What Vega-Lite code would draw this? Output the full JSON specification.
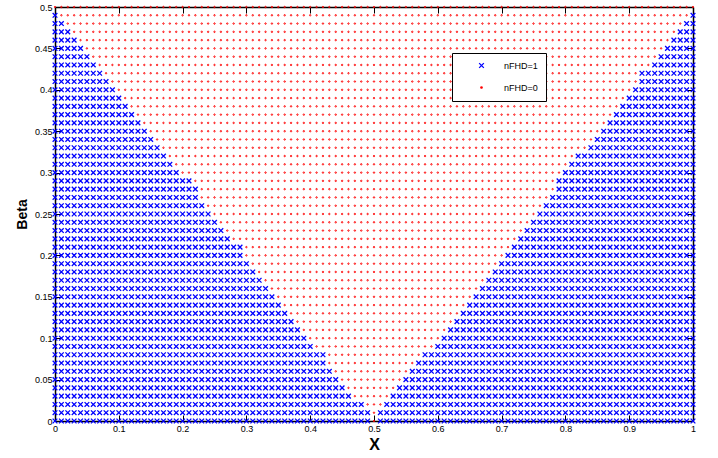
{
"$schema": "https://vega.github.io/schema/vega-lite/v6.json",
"width": 638,
"height": 414,
"autosize": {"type": "none"},
"padding": {"left": 55, "top": 7, "right": 25, "bottom": 37},
"background": "white",
"config": {
"view": {"stroke": null},
"font": "Liberation Sans",
"axis": {"domainColor": "black", "domainWidth": 1.5, "tickColor": "black", "tickWidth": 1, "tickSize": -6, "labelPadding": 9, "labelFont": "Liberation Sans", "labelFontSize": 9, "labelColor": "black", "labelFlush": false, "labelOverlap": false, "titleFont": "Liberation Sans", "titleFontWeight": "bold", "titleColor": "black", "grid": false, "tickCount": 10}
},
"layer": [
{
"data": {"values": "x,beta\n0,0\n.01,0\n.02,0\n.03,0\n.04,0\n.05,0\n.06,0\n.07,0\n.08,0\n.09,0\n.1,0\n.11,0\n.12,0\n.13,0\n.14,0\n.15,0\n.16,0\n.17,0\n.18,0\n.19,0\n.2,0\n.21,0\n.22,0\n.23,0\n.24,0\n.25,0\n.26,0\n.27,0\n.28,0\n.29,0\n.3,0\n.31,0\n.32,0\n.33,0\n.34,0\n.35,0\n.36,0\n.37,0\n.38,0\n.39,0\n.4,0\n.41,0\n.42,0\n.43,0\n.44,0\n.45,0\n.46,0\n.47,0\n.48,0\n.49,0\n.51,0\n.52,0\n.53,0\n.54,0\n.55,0\n.56,0\n.57,0\n.58,0\n.59,0\n.6,0\n.61,0\n.62,0\n.63,0\n.64,0\n.65,0\n.66,0\n.67,0\n.68,0\n.69,0\n.7,0\n.71,0\n.72,0\n.73,0\n.74,0\n.75,0\n.76,0\n.77,0\n.78,0\n.79,0\n.8,0\n.81,0\n.82,0\n.83,0\n.84,0\n.85,0\n.86,0\n.87,0\n.88,0\n.89,0\n.9,0\n.91,0\n.92,0\n.93,0\n.94,0\n.95,0\n.96,0\n.97,0\n.98,0\n.99,0\n1,0\n0,.01\n.01,.01\n.02,.01\n.03,.01\n.04,.01\n.05,.01\n.06,.01\n.07,.01\n.08,.01\n.09,.01\n.1,.01\n.11,.01\n.12,.01\n.13,.01\n.14,.01\n.15,.01\n.16,.01\n.17,.01\n.18,.01\n.19,.01\n.2,.01\n.21,.01\n.22,.01\n.23,.01\n.24,.01\n.25,.01\n.26,.01\n.27,.01\n.28,.01\n.29,.01\n.3,.01\n.31,.01\n.32,.01\n.33,.01\n.34,.01\n.35,.01\n.36,.01\n.37,.01\n.38,.01\n.39,.01\n.4,.01\n.41,.01\n.42,.01\n.43,.01\n.44,.01\n.45,.01\n.46,.01\n.47,.01\n.48,.01\n.49,.01\n.51,.01\n.52,.01\n.53,.01\n.54,.01\n.55,.01\n.56,.01\n.57,.01\n.58,.01\n.59,.01\n.6,.01\n.61,.01\n.62,.01\n.63,.01\n.64,.01\n.65,.01\n.66,.01\n.67,.01\n.68,.01\n.69,.01\n.7,.01\n.71,.01\n.72,.01\n.73,.01\n.74,.01\n.75,.01\n.76,.01\n.77,.01\n.78,.01\n.79,.01\n.8,.01\n.81,.01\n.82,.01\n.83,.01\n.84,.01\n.85,.01\n.86,.01\n.87,.01\n.88,.01\n.89,.01\n.9,.01\n.91,.01\n.92,.01\n.93,.01\n.94,.01\n.95,.01\n.96,.01\n.97,.01\n.98,.01\n.99,.01\n1,.01\n0,.02\n.01,.02\n.02,.02\n.03,.02\n.04,.02\n.05,.02\n.06,.02\n.07,.02\n.08,.02\n.09,.02\n.1,.02\n.11,.02\n.12,.02\n.13,.02\n.14,.02\n.15,.02\n.16,.02\n.17,.02\n.18,.02\n.19,.02\n.2,.02\n.21,.02\n.22,.02\n.23,.02\n.24,.02\n.25,.02\n.26,.02\n.27,.02\n.28,.02\n.29,.02\n.3,.02\n.31,.02\n.32,.02\n.33,.02\n.34,.02\n.35,.02\n.36,.02\n.37,.02\n.38,.02\n.39,.02\n.4,.02\n.41,.02\n.42,.02\n.43,.02\n.44,.02\n.45,.02\n.46,.02\n.47,.02\n.48,.02\n.52,.02\n.53,.02\n.54,.02\n.55,.02\n.56,.02\n.57,.02\n.58,.02\n.59,.02\n.6,.02\n.61,.02\n.62,.02\n.63,.02\n.64,.02\n.65,.02\n.66,.02\n.67,.02\n.68,.02\n.69,.02\n.7,.02\n.71,.02\n.72,.02\n.73,.02\n.74,.02\n.75,.02\n.76,.02\n.77,.02\n.78,.02\n.79,.02\n.8,.02\n.81,.02\n.82,.02\n.83,.02\n.84,.02\n.85,.02\n.86,.02\n.87,.02\n.88,.02\n.89,.02\n.9,.02\n.91,.02\n.92,.02\n.93,.02\n.94,.02\n.95,.02\n.96,.02\n.97,.02\n.98,.02\n.99,.02\n1,.02\n0,.03\n.01,.03\n.02,.03\n.03,.03\n.04,.03\n.05,.03\n.06,.03\n.07,.03\n.08,.03\n.09,.03\n.1,.03\n.11,.03\n.12,.03\n.13,.03\n.14,.03\n.15,.03\n.16,.03\n.17,.03\n.18,.03\n.19,.03\n.2,.03\n.21,.03\n.22,.03\n.23,.03\n.24,.03\n.25,.03\n.26,.03\n.27,.03\n.28,.03\n.29,.03\n.3,.03\n.31,.03\n.32,.03\n.33,.03\n.34,.03\n.35,.03\n.36,.03\n.37,.03\n.38,.03\n.39,.03\n.4,.03\n.41,.03\n.42,.03\n.43,.03\n.44,.03\n.45,.03\n.46,.03\n.53,.03\n.54,.03\n.55,.03\n.56,.03\n.57,.03\n.58,.03\n.59,.03\n.6,.03\n.61,.03\n.62,.03\n.63,.03\n.64,.03\n.65,.03\n.66,.03\n.67,.03\n.68,.03\n.69,.03\n.7,.03\n.71,.03\n.72,.03\n.73,.03\n.74,.03\n.75,.03\n.76,.03\n.77,.03\n.78,.03\n.79,.03\n.8,.03\n.81,.03\n.82,.03\n.83,.03\n.84,.03\n.85,.03\n.86,.03\n.87,.03\n.88,.03\n.89,.03\n.9,.03\n.91,.03\n.92,.03\n.93,.03\n.94,.03\n.95,.03\n.96,.03\n.97,.03\n.98,.03\n.99,.03\n1,.03\n0,.04\n.01,.04\n.02,.04\n.03,.04\n.04,.04\n.05,.04\n.06,.04\n.07,.04\n.08,.04\n.09,.04\n.1,.04\n.11,.04\n.12,.04\n.13,.04\n.14,.04\n.15,.04\n.16,.04\n.17,.04\n.18,.04\n.19,.04\n.2,.04\n.21,.04\n.22,.04\n.23,.04\n.24,.04\n.25,.04\n.26,.04\n.27,.04\n.28,.04\n.29,.04\n.3,.04\n.31,.04\n.32,.04\n.33,.04\n.34,.04\n.35,.04\n.36,.04\n.37,.04\n.38,.04\n.39,.04\n.4,.04\n.41,.04\n.42,.04\n.43,.04\n.44,.04\n.45,.04\n.54,.04\n.55,.04\n.56,.04\n.57,.04\n.58,.04\n.59,.04\n.6,.04\n.61,.04\n.62,.04\n.63,.04\n.64,.04\n.65,.04\n.66,.04\n.67,.04\n.68,.04\n.69,.04\n.7,.04\n.71,.04\n.72,.04\n.73,.04\n.74,.04\n.75,.04\n.76,.04\n.77,.04\n.78,.04\n.79,.04\n.8,.04\n.81,.04\n.82,.04\n.83,.04\n.84,.04\n.85,.04\n.86,.04\n.87,.04\n.88,.04\n.89,.04\n.9,.04\n.91,.04\n.92,.04\n.93,.04\n.94,.04\n.95,.04\n.96,.04\n.97,.04\n.98,.04\n.99,.04\n1,.04\n0,.05\n.01,.05\n.02,.05\n.03,.05\n.04,.05\n.05,.05\n.06,.05\n.07,.05\n.08,.05\n.09,.05\n.1,.05\n.11,.05\n.12,.05\n.13,.05\n.14,.05\n.15,.05\n.16,.05\n.17,.05\n.18,.05\n.19,.05\n.2,.05\n.21,.05\n.22,.05\n.23,.05\n.24,.05\n.25,.05\n.26,.05\n.27,.05\n.28,.05\n.29,.05\n.3,.05\n.31,.05\n.32,.05\n.33,.05\n.34,.05\n.35,.05\n.36,.05\n.37,.05\n.38,.05\n.39,.05\n.4,.05\n.41,.05\n.42,.05\n.43,.05\n.44,.05\n.55,.05\n.56,.05\n.57,.05\n.58,.05\n.59,.05\n.6,.05\n.61,.05\n.62,.05\n.63,.05\n.64,.05\n.65,.05\n.66,.05\n.67,.05\n.68,.05\n.69,.05\n.7,.05\n.71,.05\n.72,.05\n.73,.05\n.74,.05\n.75,.05\n.76,.05\n.77,.05\n.78,.05\n.79,.05\n.8,.05\n.81,.05\n.82,.05\n.83,.05\n.84,.05\n.85,.05\n.86,.05\n.87,.05\n.88,.05\n.89,.05\n.9,.05\n.91,.05\n.92,.05\n.93,.05\n.94,.05\n.95,.05\n.96,.05\n.97,.05\n.98,.05\n.99,.05\n1,.05\n0,.06\n.01,.06\n.02,.06\n.03,.06\n.04,.06\n.05,.06\n.06,.06\n.07,.06\n.08,.06\n.09,.06\n.1,.06\n.11,.06\n.12,.06\n.13,.06\n.14,.06\n.15,.06\n.16,.06\n.17,.06\n.18,.06\n.19,.06\n.2,.06\n.21,.06\n.22,.06\n.23,.06\n.24,.06\n.25,.06\n.26,.06\n.27,.06\n.28,.06\n.29,.06\n.3,.06\n.31,.06\n.32,.06\n.33,.06\n.34,.06\n.35,.06\n.36,.06\n.37,.06\n.38,.06\n.39,.06\n.4,.06\n.41,.06\n.42,.06\n.43,.06\n.56,.06\n.57,.06\n.58,.06\n.59,.06\n.6,.06\n.61,.06\n.62,.06\n.63,.06\n.64,.06\n.65,.06\n.66,.06\n.67,.06\n.68,.06\n.69,.06\n.7,.06\n.71,.06\n.72,.06\n.73,.06\n.74,.06\n.75,.06\n.76,.06\n.77,.06\n.78,.06\n.79,.06\n.8,.06\n.81,.06\n.82,.06\n.83,.06\n.84,.06\n.85,.06\n.86,.06\n.87,.06\n.88,.06\n.89,.06\n.9,.06\n.91,.06\n.92,.06\n.93,.06\n.94,.06\n.95,.06\n.96,.06\n.97,.06\n.98,.06\n.99,.06\n1,.06\n0,.07\n.01,.07\n.02,.07\n.03,.07\n.04,.07\n.05,.07\n.06,.07\n.07,.07\n.08,.07\n.09,.07\n.1,.07\n.11,.07\n.12,.07\n.13,.07\n.14,.07\n.15,.07\n.16,.07\n.17,.07\n.18,.07\n.19,.07\n.2,.07\n.21,.07\n.22,.07\n.23,.07\n.24,.07\n.25,.07\n.26,.07\n.27,.07\n.28,.07\n.29,.07\n.3,.07\n.31,.07\n.32,.07\n.33,.07\n.34,.07\n.35,.07\n.36,.07\n.37,.07\n.38,.07\n.39,.07\n.4,.07\n.41,.07\n.42,.07\n.57,.07\n.58,.07\n.59,.07\n.6,.07\n.61,.07\n.62,.07\n.63,.07\n.64,.07\n.65,.07\n.66,.07\n.67,.07\n.68,.07\n.69,.07\n.7,.07\n.71,.07\n.72,.07\n.73,.07\n.74,.07\n.75,.07\n.76,.07\n.77,.07\n.78,.07\n.79,.07\n.8,.07\n.81,.07\n.82,.07\n.83,.07\n.84,.07\n.85,.07\n.86,.07\n.87,.07\n.88,.07\n.89,.07\n.9,.07\n.91,.07\n.92,.07\n.93,.07\n.94,.07\n.95,.07\n.96,.07\n.97,.07\n.98,.07\n.99,.07\n1,.07\n0,.08\n.01,.08\n.02,.08\n.03,.08\n.04,.08\n.05,.08\n.06,.08\n.07,.08\n.08,.08\n.09,.08\n.1,.08\n.11,.08\n.12,.08\n.13,.08\n.14,.08\n.15,.08\n.16,.08\n.17,.08\n.18,.08\n.19,.08\n.2,.08\n.21,.08\n.22,.08\n.23,.08\n.24,.08\n.25,.08\n.26,.08\n.27,.08\n.28,.08\n.29,.08\n.3,.08\n.31,.08\n.32,.08\n.33,.08\n.34,.08\n.35,.08\n.36,.08\n.37,.08\n.38,.08\n.39,.08\n.4,.08\n.41,.08\n.42,.08\n.58,.08\n.59,.08\n.6,.08\n.61,.08\n.62,.08\n.63,.08\n.64,.08\n.65,.08\n.66,.08\n.67,.08\n.68,.08\n.69,.08\n.7,.08\n.71,.08\n.72,.08\n.73,.08\n.74,.08\n.75,.08\n.76,.08\n.77,.08\n.78,.08\n.79,.08\n.8,.08\n.81,.08\n.82,.08\n.83,.08\n.84,.08\n.85,.08\n.86,.08\n.87,.08\n.88,.08\n.89,.08\n.9,.08\n.91,.08\n.92,.08\n.93,.08\n.94,.08\n.95,.08\n.96,.08\n.97,.08\n.98,.08\n.99,.08\n1,.08\n0,.09\n.01,.09\n.02,.09\n.03,.09\n.04,.09\n.05,.09\n.06,.09\n.07,.09\n.08,.09\n.09,.09\n.1,.09\n.11,.09\n.12,.09\n.13,.09\n.14,.09\n.15,.09\n.16,.09\n.17,.09\n.18,.09\n.19,.09\n.2,.09\n.21,.09\n.22,.09\n.23,.09\n.24,.09\n.25,.09\n.26,.09\n.27,.09\n.28,.09\n.29,.09\n.3,.09\n.31,.09\n.32,.09\n.33,.09\n.34,.09\n.35,.09\n.36,.09\n.37,.09\n.38,.09\n.39,.09\n.4,.09\n.6,.09\n.61,.09\n.62,.09\n.63,.09\n.64,.09\n.65,.09\n.66,.09\n.67,.09\n.68,.09\n.69,.09\n.7,.09\n.71,.09\n.72,.09\n.73,.09\n.74,.09\n.75,.09\n.76,.09\n.77,.09\n.78,.09\n.79,.09\n.8,.09\n.81,.09\n.82,.09\n.83,.09\n.84,.09\n.85,.09\n.86,.09\n.87,.09\n.88,.09\n.89,.09\n.9,.09\n.91,.09\n.92,.09\n.93,.09\n.94,.09\n.95,.09\n.96,.09\n.97,.09\n.98,.09\n.99,.09\n1,.09\n0,.1\n.01,.1\n.02,.1\n.03,.1\n.04,.1\n.05,.1\n.06,.1\n.07,.1\n.08,.1\n.09,.1\n.1,.1\n.11,.1\n.12,.1\n.13,.1\n.14,.1\n.15,.1\n.16,.1\n.17,.1\n.18,.1\n.19,.1\n.2,.1\n.21,.1\n.22,.1\n.23,.1\n.24,.1\n.25,.1\n.26,.1\n.27,.1\n.28,.1\n.29,.1\n.3,.1\n.31,.1\n.32,.1\n.33,.1\n.34,.1\n.35,.1\n.36,.1\n.37,.1\n.38,.1\n.39,.1\n.61,.1\n.62,.1\n.63,.1\n.64,.1\n.65,.1\n.66,.1\n.67,.1\n.68,.1\n.69,.1\n.7,.1\n.71,.1\n.72,.1\n.73,.1\n.74,.1\n.75,.1\n.76,.1\n.77,.1\n.78,.1\n.79,.1\n.8,.1\n.81,.1\n.82,.1\n.83,.1\n.84,.1\n.85,.1\n.86,.1\n.87,.1\n.88,.1\n.89,.1\n.9,.1\n.91,.1\n.92,.1\n.93,.1\n.94,.1\n.95,.1\n.96,.1\n.97,.1\n.98,.1\n.99,.1\n1,.1\n0,.11\n.01,.11\n.02,.11\n.03,.11\n.04,.11\n.05,.11\n.06,.11\n.07,.11\n.08,.11\n.09,.11\n.1,.11\n.11,.11\n.12,.11\n.13,.11\n.14,.11\n.15,.11\n.16,.11\n.17,.11\n.18,.11\n.19,.11\n.2,.11\n.21,.11\n.22,.11\n.23,.11\n.24,.11\n.25,.11\n.26,.11\n.27,.11\n.28,.11\n.29,.11\n.3,.11\n.31,.11\n.32,.11\n.33,.11\n.34,.11\n.35,.11\n.36,.11\n.37,.11\n.38,.11\n.62,.11\n.63,.11\n.64,.11\n.65,.11\n.66,.11\n.67,.11\n.68,.11\n.69,.11\n.7,.11\n.71,.11\n.72,.11\n.73,.11\n.74,.11\n.75,.11\n.76,.11\n.77,.11\n.78,.11\n.79,.11\n.8,.11\n.81,.11\n.82,.11\n.83,.11\n.84,.11\n.85,.11\n.86,.11\n.87,.11\n.88,.11\n.89,.11\n.9,.11\n.91,.11\n.92,.11\n.93,.11\n.94,.11\n.95,.11\n.96,.11\n.97,.11\n.98,.11\n.99,.11\n1,.11\n0,.12\n.01,.12\n.02,.12\n.03,.12\n.04,.12\n.05,.12\n.06,.12\n.07,.12\n.08,.12\n.09,.12\n.1,.12\n.11,.12\n.12,.12\n.13,.12\n.14,.12\n.15,.12\n.16,.12\n.17,.12\n.18,.12\n.19,.12\n.2,.12\n.21,.12\n.22,.12\n.23,.12\n.24,.12\n.25,.12\n.26,.12\n.27,.12\n.28,.12\n.29,.12\n.3,.12\n.31,.12\n.32,.12\n.33,.12\n.34,.12\n.35,.12\n.36,.12\n.37,.12\n.63,.12\n.64,.12\n.65,.12\n.66,.12\n.67,.12\n.68,.12\n.69,.12\n.7,.12\n.71,.12\n.72,.12\n.73,.12\n.74,.12\n.75,.12\n.76,.12\n.77,.12\n.78,.12\n.79,.12\n.8,.12\n.81,.12\n.82,.12\n.83,.12\n.84,.12\n.85,.12\n.86,.12\n.87,.12\n.88,.12\n.89,.12\n.9,.12\n.91,.12\n.92,.12\n.93,.12\n.94,.12\n.95,.12\n.96,.12\n.97,.12\n.98,.12\n.99,.12\n1,.12\n0,.13\n.01,.13\n.02,.13\n.03,.13\n.04,.13\n.05,.13\n.06,.13\n.07,.13\n.08,.13\n.09,.13\n.1,.13\n.11,.13\n.12,.13\n.13,.13\n.14,.13\n.15,.13\n.16,.13\n.17,.13\n.18,.13\n.19,.13\n.2,.13\n.21,.13\n.22,.13\n.23,.13\n.24,.13\n.25,.13\n.26,.13\n.27,.13\n.28,.13\n.29,.13\n.3,.13\n.31,.13\n.32,.13\n.33,.13\n.34,.13\n.35,.13\n.36,.13\n.64,.13\n.65,.13\n.66,.13\n.67,.13\n.68,.13\n.69,.13\n.7,.13\n.71,.13\n.72,.13\n.73,.13\n.74,.13\n.75,.13\n.76,.13\n.77,.13\n.78,.13\n.79,.13\n.8,.13\n.81,.13\n.82,.13\n.83,.13\n.84,.13\n.85,.13\n.86,.13\n.87,.13\n.88,.13\n.89,.13\n.9,.13\n.91,.13\n.92,.13\n.93,.13\n.94,.13\n.95,.13\n.96,.13\n.97,.13\n.98,.13\n.99,.13\n1,.13\n0,.14\n.01,.14\n.02,.14\n.03,.14\n.04,.14\n.05,.14\n.06,.14\n.07,.14\n.08,.14\n.09,.14\n.1,.14\n.11,.14\n.12,.14\n.13,.14\n.14,.14\n.15,.14\n.16,.14\n.17,.14\n.18,.14\n.19,.14\n.2,.14\n.21,.14\n.22,.14\n.23,.14\n.24,.14\n.25,.14\n.26,.14\n.27,.14\n.28,.14\n.29,.14\n.3,.14\n.31,.14\n.32,.14\n.33,.14\n.34,.14\n.35,.14\n.65,.14\n.66,.14\n.67,.14\n.68,.14\n.69,.14\n.7,.14\n.71,.14\n.72,.14\n.73,.14\n.74,.14\n.75,.14\n.76,.14\n.77,.14\n.78,.14\n.79,.14\n.8,.14\n.81,.14\n.82,.14\n.83,.14\n.84,.14\n.85,.14\n.86,.14\n.87,.14\n.88,.14\n.89,.14\n.9,.14\n.91,.14\n.92,.14\n.93,.14\n.94,.14\n.95,.14\n.96,.14\n.97,.14\n.98,.14\n.99,.14\n1,.14\n0,.15\n.01,.15\n.02,.15\n.03,.15\n.04,.15\n.05,.15\n.06,.15\n.07,.15\n.08,.15\n.09,.15\n.1,.15\n.11,.15\n.12,.15\n.13,.15\n.14,.15\n.15,.15\n.16,.15\n.17,.15\n.18,.15\n.19,.15\n.2,.15\n.21,.15\n.22,.15\n.23,.15\n.24,.15\n.25,.15\n.26,.15\n.27,.15\n.28,.15\n.29,.15\n.3,.15\n.31,.15\n.32,.15\n.33,.15\n.34,.15\n.66,.15\n.67,.15\n.68,.15\n.69,.15\n.7,.15\n.71,.15\n.72,.15\n.73,.15\n.74,.15\n.75,.15\n.76,.15\n.77,.15\n.78,.15\n.79,.15\n.8,.15\n.81,.15\n.82,.15\n.83,.15\n.84,.15\n.85,.15\n.86,.15\n.87,.15\n.88,.15\n.89,.15\n.9,.15\n.91,.15\n.92,.15\n.93,.15\n.94,.15\n.95,.15\n.96,.15\n.97,.15\n.98,.15\n.99,.15\n1,.15\n0,.16\n.01,.16\n.02,.16\n.03,.16\n.04,.16\n.05,.16\n.06,.16\n.07,.16\n.08,.16\n.09,.16\n.1,.16\n.11,.16\n.12,.16\n.13,.16\n.14,.16\n.15,.16\n.16,.16\n.17,.16\n.18,.16\n.19,.16\n.2,.16\n.21,.16\n.22,.16\n.23,.16\n.24,.16\n.25,.16\n.26,.16\n.27,.16\n.28,.16\n.29,.16\n.3,.16\n.31,.16\n.32,.16\n.33,.16\n.67,.16\n.68,.16\n.69,.16\n.7,.16\n.71,.16\n.72,.16\n.73,.16\n.74,.16\n.75,.16\n.76,.16\n.77,.16\n.78,.16\n.79,.16\n.8,.16\n.81,.16\n.82,.16\n.83,.16\n.84,.16\n.85,.16\n.86,.16\n.87,.16\n.88,.16\n.89,.16\n.9,.16\n.91,.16\n.92,.16\n.93,.16\n.94,.16\n.95,.16\n.96,.16\n.97,.16\n.98,.16\n.99,.16\n1,.16\n0,.17\n.01,.17\n.02,.17\n.03,.17\n.04,.17\n.05,.17\n.06,.17\n.07,.17\n.08,.17\n.09,.17\n.1,.17\n.11,.17\n.12,.17\n.13,.17\n.14,.17\n.15,.17\n.16,.17\n.17,.17\n.18,.17\n.19,.17\n.2,.17\n.21,.17\n.22,.17\n.23,.17\n.24,.17\n.25,.17\n.26,.17\n.27,.17\n.28,.17\n.29,.17\n.3,.17\n.31,.17\n.32,.17\n.68,.17\n.69,.17\n.7,.17\n.71,.17\n.72,.17\n.73,.17\n.74,.17\n.75,.17\n.76,.17\n.77,.17\n.78,.17\n.79,.17\n.8,.17\n.81,.17\n.82,.17\n.83,.17\n.84,.17\n.85,.17\n.86,.17\n.87,.17\n.88,.17\n.89,.17\n.9,.17\n.91,.17\n.92,.17\n.93,.17\n.94,.17\n.95,.17\n.96,.17\n.97,.17\n.98,.17\n.99,.17\n1,.17\n0,.18\n.01,.18\n.02,.18\n.03,.18\n.04,.18\n.05,.18\n.06,.18\n.07,.18\n.08,.18\n.09,.18\n.1,.18\n.11,.18\n.12,.18\n.13,.18\n.14,.18\n.15,.18\n.16,.18\n.17,.18\n.18,.18\n.19,.18\n.2,.18\n.21,.18\n.22,.18\n.23,.18\n.24,.18\n.25,.18\n.26,.18\n.27,.18\n.28,.18\n.29,.18\n.3,.18\n.31,.18\n.69,.18\n.7,.18\n.71,.18\n.72,.18\n.73,.18\n.74,.18\n.75,.18\n.76,.18\n.77,.18\n.78,.18\n.79,.18\n.8,.18\n.81,.18\n.82,.18\n.83,.18\n.84,.18\n.85,.18\n.86,.18\n.87,.18\n.88,.18\n.89,.18\n.9,.18\n.91,.18\n.92,.18\n.93,.18\n.94,.18\n.95,.18\n.96,.18\n.97,.18\n.98,.18\n.99,.18\n1,.18\n0,.19\n.01,.19\n.02,.19\n.03,.19\n.04,.19\n.05,.19\n.06,.19\n.07,.19\n.08,.19\n.09,.19\n.1,.19\n.11,.19\n.12,.19\n.13,.19\n.14,.19\n.15,.19\n.16,.19\n.17,.19\n.18,.19\n.19,.19\n.2,.19\n.21,.19\n.22,.19\n.23,.19\n.24,.19\n.25,.19\n.26,.19\n.27,.19\n.28,.19\n.29,.19\n.3,.19\n.7,.19\n.71,.19\n.72,.19\n.73,.19\n.74,.19\n.75,.19\n.76,.19\n.77,.19\n.78,.19\n.79,.19\n.8,.19\n.81,.19\n.82,.19\n.83,.19\n.84,.19\n.85,.19\n.86,.19\n.87,.19\n.88,.19\n.89,.19\n.9,.19\n.91,.19\n.92,.19\n.93,.19\n.94,.19\n.95,.19\n.96,.19\n.97,.19\n.98,.19\n.99,.19\n1,.19\n0,.2\n.01,.2\n.02,.2\n.03,.2\n.04,.2\n.05,.2\n.06,.2\n.07,.2\n.08,.2\n.09,.2\n.1,.2\n.11,.2\n.12,.2\n.13,.2\n.14,.2\n.15,.2\n.16,.2\n.17,.2\n.18,.2\n.19,.2\n.2,.2\n.21,.2\n.22,.2\n.23,.2\n.24,.2\n.25,.2\n.26,.2\n.27,.2\n.28,.2\n.29,.2\n.71,.2\n.72,.2\n.73,.2\n.74,.2\n.75,.2\n.76,.2\n.77,.2\n.78,.2\n.79,.2\n.8,.2\n.81,.2\n.82,.2\n.83,.2\n.84,.2\n.85,.2\n.86,.2\n.87,.2\n.88,.2\n.89,.2\n.9,.2\n.91,.2\n.92,.2\n.93,.2\n.94,.2\n.95,.2\n.96,.2\n.97,.2\n.98,.2\n.99,.2\n1,.2\n0,.21\n.01,.21\n.02,.21\n.03,.21\n.04,.21\n.05,.21\n.06,.21\n.07,.21\n.08,.21\n.09,.21\n.1,.21\n.11,.21\n.12,.21\n.13,.21\n.14,.21\n.15,.21\n.16,.21\n.17,.21\n.18,.21\n.19,.21\n.2,.21\n.21,.21\n.22,.21\n.23,.21\n.24,.21\n.25,.21\n.26,.21\n.27,.21\n.28,.21\n.29,.21\n.72,.21\n.73,.21\n.74,.21\n.75,.21\n.76,.21\n.77,.21\n.78,.21\n.79,.21\n.8,.21\n.81,.21\n.82,.21\n.83,.21\n.84,.21\n.85,.21\n.86,.21\n.87,.21\n.88,.21\n.89,.21\n.9,.21\n.91,.21\n.92,.21\n.93,.21\n.94,.21\n.95,.21\n.96,.21\n.97,.21\n.98,.21\n.99,.21\n1,.21\n0,.22\n.01,.22\n.02,.22\n.03,.22\n.04,.22\n.05,.22\n.06,.22\n.07,.22\n.08,.22\n.09,.22\n.1,.22\n.11,.22\n.12,.22\n.13,.22\n.14,.22\n.15,.22\n.16,.22\n.17,.22\n.18,.22\n.19,.22\n.2,.22\n.21,.22\n.22,.22\n.23,.22\n.24,.22\n.25,.22\n.26,.22\n.27,.22\n.73,.22\n.74,.22\n.75,.22\n.76,.22\n.77,.22\n.78,.22\n.79,.22\n.8,.22\n.81,.22\n.82,.22\n.83,.22\n.84,.22\n.85,.22\n.86,.22\n.87,.22\n.88,.22\n.89,.22\n.9,.22\n.91,.22\n.92,.22\n.93,.22\n.94,.22\n.95,.22\n.96,.22\n.97,.22\n.98,.22\n.99,.22\n1,.22\n0,.23\n.01,.23\n.02,.23\n.03,.23\n.04,.23\n.05,.23\n.06,.23\n.07,.23\n.08,.23\n.09,.23\n.1,.23\n.11,.23\n.12,.23\n.13,.23\n.14,.23\n.15,.23\n.16,.23\n.17,.23\n.18,.23\n.19,.23\n.2,.23\n.21,.23\n.22,.23\n.23,.23\n.24,.23\n.25,.23\n.26,.23\n.74,.23\n.75,.23\n.76,.23\n.77,.23\n.78,.23\n.79,.23\n.8,.23\n.81,.23\n.82,.23\n.83,.23\n.84,.23\n.85,.23\n.86,.23\n.87,.23\n.88,.23\n.89,.23\n.9,.23\n.91,.23\n.92,.23\n.93,.23\n.94,.23\n.95,.23\n.96,.23\n.97,.23\n.98,.23\n.99,.23\n1,.23\n0,.24\n.01,.24\n.02,.24\n.03,.24\n.04,.24\n.05,.24\n.06,.24\n.07,.24\n.08,.24\n.09,.24\n.1,.24\n.11,.24\n.12,.24\n.13,.24\n.14,.24\n.15,.24\n.16,.24\n.17,.24\n.18,.24\n.19,.24\n.2,.24\n.21,.24\n.22,.24\n.23,.24\n.24,.24\n.25,.24\n.75,.24\n.76,.24\n.77,.24\n.78,.24\n.79,.24\n.8,.24\n.81,.24\n.82,.24\n.83,.24\n.84,.24\n.85,.24\n.86,.24\n.87,.24\n.88,.24\n.89,.24\n.9,.24\n.91,.24\n.92,.24\n.93,.24\n.94,.24\n.95,.24\n.96,.24\n.97,.24\n.98,.24\n.99,.24\n1,.24\n0,.25\n.01,.25\n.02,.25\n.03,.25\n.04,.25\n.05,.25\n.06,.25\n.07,.25\n.08,.25\n.09,.25\n.1,.25\n.11,.25\n.12,.25\n.13,.25\n.14,.25\n.15,.25\n.16,.25\n.17,.25\n.18,.25\n.19,.25\n.2,.25\n.21,.25\n.22,.25\n.23,.25\n.24,.25\n.76,.25\n.77,.25\n.78,.25\n.79,.25\n.8,.25\n.81,.25\n.82,.25\n.83,.25\n.84,.25\n.85,.25\n.86,.25\n.87,.25\n.88,.25\n.89,.25\n.9,.25\n.91,.25\n.92,.25\n.93,.25\n.94,.25\n.95,.25\n.96,.25\n.97,.25\n.98,.25\n.99,.25\n1,.25\n0,.26\n.01,.26\n.02,.26\n.03,.26\n.04,.26\n.05,.26\n.06,.26\n.07,.26\n.08,.26\n.09,.26\n.1,.26\n.11,.26\n.12,.26\n.13,.26\n.14,.26\n.15,.26\n.16,.26\n.17,.26\n.18,.26\n.19,.26\n.2,.26\n.21,.26\n.22,.26\n.23,.26\n.77,.26\n.78,.26\n.79,.26\n.8,.26\n.81,.26\n.82,.26\n.83,.26\n.84,.26\n.85,.26\n.86,.26\n.87,.26\n.88,.26\n.89,.26\n.9,.26\n.91,.26\n.92,.26\n.93,.26\n.94,.26\n.95,.26\n.96,.26\n.97,.26\n.98,.26\n.99,.26\n1,.26\n0,.27\n.01,.27\n.02,.27\n.03,.27\n.04,.27\n.05,.27\n.06,.27\n.07,.27\n.08,.27\n.09,.27\n.1,.27\n.11,.27\n.12,.27\n.13,.27\n.14,.27\n.15,.27\n.16,.27\n.17,.27\n.18,.27\n.19,.27\n.2,.27\n.21,.27\n.22,.27\n.78,.27\n.79,.27\n.8,.27\n.81,.27\n.82,.27\n.83,.27\n.84,.27\n.85,.27\n.86,.27\n.87,.27\n.88,.27\n.89,.27\n.9,.27\n.91,.27\n.92,.27\n.93,.27\n.94,.27\n.95,.27\n.96,.27\n.97,.27\n.98,.27\n.99,.27\n1,.27\n0,.28\n.01,.28\n.02,.28\n.03,.28\n.04,.28\n.05,.28\n.06,.28\n.07,.28\n.08,.28\n.09,.28\n.1,.28\n.11,.28\n.12,.28\n.13,.28\n.14,.28\n.15,.28\n.16,.28\n.17,.28\n.18,.28\n.19,.28\n.2,.28\n.21,.28\n.22,.28\n.79,.28\n.8,.28\n.81,.28\n.82,.28\n.83,.28\n.84,.28\n.85,.28\n.86,.28\n.87,.28\n.88,.28\n.89,.28\n.9,.28\n.91,.28\n.92,.28\n.93,.28\n.94,.28\n.95,.28\n.96,.28\n.97,.28\n.98,.28\n.99,.28\n1,.28\n0,.29\n.01,.29\n.02,.29\n.03,.29\n.04,.29\n.05,.29\n.06,.29\n.07,.29\n.08,.29\n.09,.29\n.1,.29\n.11,.29\n.12,.29\n.13,.29\n.14,.29\n.15,.29\n.16,.29\n.17,.29\n.18,.29\n.19,.29\n.2,.29\n.21,.29\n.79,.29\n.8,.29\n.81,.29\n.82,.29\n.83,.29\n.84,.29\n.85,.29\n.86,.29\n.87,.29\n.88,.29\n.89,.29\n.9,.29\n.91,.29\n.92,.29\n.93,.29\n.94,.29\n.95,.29\n.96,.29\n.97,.29\n.98,.29\n.99,.29\n1,.29\n0,.3\n.01,.3\n.02,.3\n.03,.3\n.04,.3\n.05,.3\n.06,.3\n.07,.3\n.08,.3\n.09,.3\n.1,.3\n.11,.3\n.12,.3\n.13,.3\n.14,.3\n.15,.3\n.16,.3\n.17,.3\n.18,.3\n.19,.3\n.8,.3\n.81,.3\n.82,.3\n.83,.3\n.84,.3\n.85,.3\n.86,.3\n.87,.3\n.88,.3\n.89,.3\n.9,.3\n.91,.3\n.92,.3\n.93,.3\n.94,.3\n.95,.3\n.96,.3\n.97,.3\n.98,.3\n.99,.3\n1,.3\n0,.31\n.01,.31\n.02,.31\n.03,.31\n.04,.31\n.05,.31\n.06,.31\n.07,.31\n.08,.31\n.09,.31\n.1,.31\n.11,.31\n.12,.31\n.13,.31\n.14,.31\n.15,.31\n.16,.31\n.17,.31\n.18,.31\n.81,.31\n.82,.31\n.83,.31\n.84,.31\n.85,.31\n.86,.31\n.87,.31\n.88,.31\n.89,.31\n.9,.31\n.91,.31\n.92,.31\n.93,.31\n.94,.31\n.95,.31\n.96,.31\n.97,.31\n.98,.31\n.99,.31\n1,.31\n0,.32\n.01,.32\n.02,.32\n.03,.32\n.04,.32\n.05,.32\n.06,.32\n.07,.32\n.08,.32\n.09,.32\n.1,.32\n.11,.32\n.12,.32\n.13,.32\n.14,.32\n.15,.32\n.16,.32\n.17,.32\n.82,.32\n.83,.32\n.84,.32\n.85,.32\n.86,.32\n.87,.32\n.88,.32\n.89,.32\n.9,.32\n.91,.32\n.92,.32\n.93,.32\n.94,.32\n.95,.32\n.96,.32\n.97,.32\n.98,.32\n.99,.32\n1,.32\n0,.33\n.01,.33\n.02,.33\n.03,.33\n.04,.33\n.05,.33\n.06,.33\n.07,.33\n.08,.33\n.09,.33\n.1,.33\n.11,.33\n.12,.33\n.13,.33\n.14,.33\n.15,.33\n.16,.33\n.84,.33\n.85,.33\n.86,.33\n.87,.33\n.88,.33\n.89,.33\n.9,.33\n.91,.33\n.92,.33\n.93,.33\n.94,.33\n.95,.33\n.96,.33\n.97,.33\n.98,.33\n.99,.33\n1,.33\n0,.34\n.01,.34\n.02,.34\n.03,.34\n.04,.34\n.05,.34\n.06,.34\n.07,.34\n.08,.34\n.09,.34\n.1,.34\n.11,.34\n.12,.34\n.13,.34\n.14,.34\n.15,.34\n.85,.34\n.86,.34\n.87,.34\n.88,.34\n.89,.34\n.9,.34\n.91,.34\n.92,.34\n.93,.34\n.94,.34\n.95,.34\n.96,.34\n.97,.34\n.98,.34\n.99,.34\n1,.34\n0,.35\n.01,.35\n.02,.35\n.03,.35\n.04,.35\n.05,.35\n.06,.35\n.07,.35\n.08,.35\n.09,.35\n.1,.35\n.11,.35\n.12,.35\n.13,.35\n.14,.35\n.86,.35\n.87,.35\n.88,.35\n.89,.35\n.9,.35\n.91,.35\n.92,.35\n.93,.35\n.94,.35\n.95,.35\n.96,.35\n.97,.35\n.98,.35\n.99,.35\n1,.35\n0,.36\n.01,.36\n.02,.36\n.03,.36\n.04,.36\n.05,.36\n.06,.36\n.07,.36\n.08,.36\n.09,.36\n.1,.36\n.11,.36\n.12,.36\n.13,.36\n.87,.36\n.88,.36\n.89,.36\n.9,.36\n.91,.36\n.92,.36\n.93,.36\n.94,.36\n.95,.36\n.96,.36\n.97,.36\n.98,.36\n.99,.36\n1,.36\n0,.37\n.01,.37\n.02,.37\n.03,.37\n.04,.37\n.05,.37\n.06,.37\n.07,.37\n.08,.37\n.09,.37\n.1,.37\n.11,.37\n.12,.37\n.88,.37\n.89,.37\n.9,.37\n.91,.37\n.92,.37\n.93,.37\n.94,.37\n.95,.37\n.96,.37\n.97,.37\n.98,.37\n.99,.37\n1,.37\n0,.38\n.01,.38\n.02,.38\n.03,.38\n.04,.38\n.05,.38\n.06,.38\n.07,.38\n.08,.38\n.09,.38\n.1,.38\n.11,.38\n.89,.38\n.9,.38\n.91,.38\n.92,.38\n.93,.38\n.94,.38\n.95,.38\n.96,.38\n.97,.38\n.98,.38\n.99,.38\n1,.38\n0,.39\n.01,.39\n.02,.39\n.03,.39\n.04,.39\n.05,.39\n.06,.39\n.07,.39\n.08,.39\n.09,.39\n.1,.39\n.9,.39\n.91,.39\n.92,.39\n.93,.39\n.94,.39\n.95,.39\n.96,.39\n.97,.39\n.98,.39\n.99,.39\n1,.39\n0,.4\n.01,.4\n.02,.4\n.03,.4\n.04,.4\n.05,.4\n.06,.4\n.07,.4\n.08,.4\n.09,.4\n.91,.4\n.92,.4\n.93,.4\n.94,.4\n.95,.4\n.96,.4\n.97,.4\n.98,.4\n.99,.4\n1,.4\n0,.41\n.01,.41\n.02,.41\n.03,.41\n.04,.41\n.05,.41\n.06,.41\n.07,.41\n.08,.41\n.92,.41\n.93,.41\n.94,.41\n.95,.41\n.96,.41\n.97,.41\n.98,.41\n.99,.41\n1,.41\n0,.42\n.01,.42\n.02,.42\n.03,.42\n.04,.42\n.05,.42\n.06,.42\n.07,.42\n.92,.42\n.93,.42\n.94,.42\n.95,.42\n.96,.42\n.97,.42\n.98,.42\n.99,.42\n1,.42\n0,.43\n.01,.43\n.02,.43\n.03,.43\n.04,.43\n.05,.43\n.06,.43\n.94,.43\n.95,.43\n.96,.43\n.97,.43\n.98,.43\n.99,.43\n1,.43\n0,.44\n.01,.44\n.02,.44\n.03,.44\n.04,.44\n.05,.44\n.95,.44\n.96,.44\n.97,.44\n.98,.44\n.99,.44\n1,.44\n0,.45\n.01,.45\n.02,.45\n.03,.45\n.04,.45\n.96,.45\n.97,.45\n.98,.45\n.99,.45\n1,.45\n0,.46\n.01,.46\n.02,.46\n.03,.46\n.97,.46\n.98,.46\n.99,.46\n1,.46\n0,.47\n.01,.47\n.02,.47\n.98,.47\n.99,.47\n1,.47\n0,.48\n.01,.48\n.99,.48\n1,.48\n0,.49\n1,.49\n", "format": {"type": "csv", "parse": {"x": "number", "beta": "number"}}},
"mark": {"type": "point", "filled": false, "strokeWidth": 1.3, "opacity": 1},
"encoding": {
"x": {"field": "x", "type": "quantitative", "title": "X", "scale": {"domain": [0, 1], "nice": false, "zero": false}, "axis": {"format": ".1~f", "titleFontSize": 16, "titlePadding": 3}},
"y": {"field": "beta", "type": "quantitative", "title": "Beta", "scale": {"domain": [0, 0.5], "nice": false, "zero": false}, "axis": {"format": ".2~f", "titleFontSize": 14, "titlePadding": 5}},
"color": {"datum": "nFHD=1", "type": "nominal", "scale": {"domain": ["nFHD=1", "nFHD=0"], "range": ["#0000ff", "#ff0000"]}, "legend": {"title": null, "orient": "none", "legendX": 397, "legendY": 46, "fillColor": "white", "strokeColor": "black", "padding": 8, "rowPadding": 12, "symbolOffset": 17, "labelOffset": 18, "labelFont": "Liberation Sans", "labelFontSize": 9, "labelColor": "black", "symbolStrokeWidth": 1.3}},
"shape": {"datum": "nFHD=1", "type": "nominal", "scale": {"domain": ["nFHD=1", "nFHD=0"], "range": ["M-1,-1L1,1M1,-1L-1,1", "circle"]}},
"size": {"datum": "nFHD=1", "type": "ordinal", "scale": {"domain": ["nFHD=1", "nFHD=0"], "range": [22, 2]}}
}
},
{
"data": {"values": "x,beta\n.5,0\n.5,.01\n.49,.02\n.5,.02\n.51,.02\n.47,.03\n.48,.03\n.49,.03\n.5,.03\n.51,.03\n.52,.03\n.46,.04\n.47,.04\n.48,.04\n.49,.04\n.5,.04\n.51,.04\n.52,.04\n.53,.04\n.45,.05\n.46,.05\n.47,.05\n.48,.05\n.49,.05\n.5,.05\n.51,.05\n.52,.05\n.53,.05\n.54,.05\n.44,.06\n.45,.06\n.46,.06\n.47,.06\n.48,.06\n.49,.06\n.5,.06\n.51,.06\n.52,.06\n.53,.06\n.54,.06\n.55,.06\n.43,.07\n.44,.07\n.45,.07\n.46,.07\n.47,.07\n.48,.07\n.49,.07\n.5,.07\n.51,.07\n.52,.07\n.53,.07\n.54,.07\n.55,.07\n.56,.07\n.43,.08\n.44,.08\n.45,.08\n.46,.08\n.47,.08\n.48,.08\n.49,.08\n.5,.08\n.51,.08\n.52,.08\n.53,.08\n.54,.08\n.55,.08\n.56,.08\n.57,.08\n.41,.09\n.42,.09\n.43,.09\n.44,.09\n.45,.09\n.46,.09\n.47,.09\n.48,.09\n.49,.09\n.5,.09\n.51,.09\n.52,.09\n.53,.09\n.54,.09\n.55,.09\n.56,.09\n.57,.09\n.58,.09\n.59,.09\n.4,.1\n.41,.1\n.42,.1\n.43,.1\n.44,.1\n.45,.1\n.46,.1\n.47,.1\n.48,.1\n.49,.1\n.5,.1\n.51,.1\n.52,.1\n.53,.1\n.54,.1\n.55,.1\n.56,.1\n.57,.1\n.58,.1\n.59,.1\n.6,.1\n.39,.11\n.4,.11\n.41,.11\n.42,.11\n.43,.11\n.44,.11\n.45,.11\n.46,.11\n.47,.11\n.48,.11\n.49,.11\n.5,.11\n.51,.11\n.52,.11\n.53,.11\n.54,.11\n.55,.11\n.56,.11\n.57,.11\n.58,.11\n.59,.11\n.6,.11\n.61,.11\n.38,.12\n.39,.12\n.4,.12\n.41,.12\n.42,.12\n.43,.12\n.44,.12\n.45,.12\n.46,.12\n.47,.12\n.48,.12\n.49,.12\n.5,.12\n.51,.12\n.52,.12\n.53,.12\n.54,.12\n.55,.12\n.56,.12\n.57,.12\n.58,.12\n.59,.12\n.6,.12\n.61,.12\n.62,.12\n.37,.13\n.38,.13\n.39,.13\n.4,.13\n.41,.13\n.42,.13\n.43,.13\n.44,.13\n.45,.13\n.46,.13\n.47,.13\n.48,.13\n.49,.13\n.5,.13\n.51,.13\n.52,.13\n.53,.13\n.54,.13\n.55,.13\n.56,.13\n.57,.13\n.58,.13\n.59,.13\n.6,.13\n.61,.13\n.62,.13\n.63,.13\n.36,.14\n.37,.14\n.38,.14\n.39,.14\n.4,.14\n.41,.14\n.42,.14\n.43,.14\n.44,.14\n.45,.14\n.46,.14\n.47,.14\n.48,.14\n.49,.14\n.5,.14\n.51,.14\n.52,.14\n.53,.14\n.54,.14\n.55,.14\n.56,.14\n.57,.14\n.58,.14\n.59,.14\n.6,.14\n.61,.14\n.62,.14\n.63,.14\n.64,.14\n.35,.15\n.36,.15\n.37,.15\n.38,.15\n.39,.15\n.4,.15\n.41,.15\n.42,.15\n.43,.15\n.44,.15\n.45,.15\n.46,.15\n.47,.15\n.48,.15\n.49,.15\n.5,.15\n.51,.15\n.52,.15\n.53,.15\n.54,.15\n.55,.15\n.56,.15\n.57,.15\n.58,.15\n.59,.15\n.6,.15\n.61,.15\n.62,.15\n.63,.15\n.64,.15\n.65,.15\n.34,.16\n.35,.16\n.36,.16\n.37,.16\n.38,.16\n.39,.16\n.4,.16\n.41,.16\n.42,.16\n.43,.16\n.44,.16\n.45,.16\n.46,.16\n.47,.16\n.48,.16\n.49,.16\n.5,.16\n.51,.16\n.52,.16\n.53,.16\n.54,.16\n.55,.16\n.56,.16\n.57,.16\n.58,.16\n.59,.16\n.6,.16\n.61,.16\n.62,.16\n.63,.16\n.64,.16\n.65,.16\n.66,.16\n.33,.17\n.34,.17\n.35,.17\n.36,.17\n.37,.17\n.38,.17\n.39,.17\n.4,.17\n.41,.17\n.42,.17\n.43,.17\n.44,.17\n.45,.17\n.46,.17\n.47,.17\n.48,.17\n.49,.17\n.5,.17\n.51,.17\n.52,.17\n.53,.17\n.54,.17\n.55,.17\n.56,.17\n.57,.17\n.58,.17\n.59,.17\n.6,.17\n.61,.17\n.62,.17\n.63,.17\n.64,.17\n.65,.17\n.66,.17\n.67,.17\n.32,.18\n.33,.18\n.34,.18\n.35,.18\n.36,.18\n.37,.18\n.38,.18\n.39,.18\n.4,.18\n.41,.18\n.42,.18\n.43,.18\n.44,.18\n.45,.18\n.46,.18\n.47,.18\n.48,.18\n.49,.18\n.5,.18\n.51,.18\n.52,.18\n.53,.18\n.54,.18\n.55,.18\n.56,.18\n.57,.18\n.58,.18\n.59,.18\n.6,.18\n.61,.18\n.62,.18\n.63,.18\n.64,.18\n.65,.18\n.66,.18\n.67,.18\n.68,.18\n.31,.19\n.32,.19\n.33,.19\n.34,.19\n.35,.19\n.36,.19\n.37,.19\n.38,.19\n.39,.19\n.4,.19\n.41,.19\n.42,.19\n.43,.19\n.44,.19\n.45,.19\n.46,.19\n.47,.19\n.48,.19\n.49,.19\n.5,.19\n.51,.19\n.52,.19\n.53,.19\n.54,.19\n.55,.19\n.56,.19\n.57,.19\n.58,.19\n.59,.19\n.6,.19\n.61,.19\n.62,.19\n.63,.19\n.64,.19\n.65,.19\n.66,.19\n.67,.19\n.68,.19\n.69,.19\n.3,.2\n.31,.2\n.32,.2\n.33,.2\n.34,.2\n.35,.2\n.36,.2\n.37,.2\n.38,.2\n.39,.2\n.4,.2\n.41,.2\n.42,.2\n.43,.2\n.44,.2\n.45,.2\n.46,.2\n.47,.2\n.48,.2\n.49,.2\n.5,.2\n.51,.2\n.52,.2\n.53,.2\n.54,.2\n.55,.2\n.56,.2\n.57,.2\n.58,.2\n.59,.2\n.6,.2\n.61,.2\n.62,.2\n.63,.2\n.64,.2\n.65,.2\n.66,.2\n.67,.2\n.68,.2\n.69,.2\n.7,.2\n.3,.21\n.31,.21\n.32,.21\n.33,.21\n.34,.21\n.35,.21\n.36,.21\n.37,.21\n.38,.21\n.39,.21\n.4,.21\n.41,.21\n.42,.21\n.43,.21\n.44,.21\n.45,.21\n.46,.21\n.47,.21\n.48,.21\n.49,.21\n.5,.21\n.51,.21\n.52,.21\n.53,.21\n.54,.21\n.55,.21\n.56,.21\n.57,.21\n.58,.21\n.59,.21\n.6,.21\n.61,.21\n.62,.21\n.63,.21\n.64,.21\n.65,.21\n.66,.21\n.67,.21\n.68,.21\n.69,.21\n.7,.21\n.71,.21\n.28,.22\n.29,.22\n.3,.22\n.31,.22\n.32,.22\n.33,.22\n.34,.22\n.35,.22\n.36,.22\n.37,.22\n.38,.22\n.39,.22\n.4,.22\n.41,.22\n.42,.22\n.43,.22\n.44,.22\n.45,.22\n.46,.22\n.47,.22\n.48,.22\n.49,.22\n.5,.22\n.51,.22\n.52,.22\n.53,.22\n.54,.22\n.55,.22\n.56,.22\n.57,.22\n.58,.22\n.59,.22\n.6,.22\n.61,.22\n.62,.22\n.63,.22\n.64,.22\n.65,.22\n.66,.22\n.67,.22\n.68,.22\n.69,.22\n.7,.22\n.71,.22\n.72,.22\n.27,.23\n.28,.23\n.29,.23\n.3,.23\n.31,.23\n.32,.23\n.33,.23\n.34,.23\n.35,.23\n.36,.23\n.37,.23\n.38,.23\n.39,.23\n.4,.23\n.41,.23\n.42,.23\n.43,.23\n.44,.23\n.45,.23\n.46,.23\n.47,.23\n.48,.23\n.49,.23\n.5,.23\n.51,.23\n.52,.23\n.53,.23\n.54,.23\n.55,.23\n.56,.23\n.57,.23\n.58,.23\n.59,.23\n.6,.23\n.61,.23\n.62,.23\n.63,.23\n.64,.23\n.65,.23\n.66,.23\n.67,.23\n.68,.23\n.69,.23\n.7,.23\n.71,.23\n.72,.23\n.73,.23\n.26,.24\n.27,.24\n.28,.24\n.29,.24\n.3,.24\n.31,.24\n.32,.24\n.33,.24\n.34,.24\n.35,.24\n.36,.24\n.37,.24\n.38,.24\n.39,.24\n.4,.24\n.41,.24\n.42,.24\n.43,.24\n.44,.24\n.45,.24\n.46,.24\n.47,.24\n.48,.24\n.49,.24\n.5,.24\n.51,.24\n.52,.24\n.53,.24\n.54,.24\n.55,.24\n.56,.24\n.57,.24\n.58,.24\n.59,.24\n.6,.24\n.61,.24\n.62,.24\n.63,.24\n.64,.24\n.65,.24\n.66,.24\n.67,.24\n.68,.24\n.69,.24\n.7,.24\n.71,.24\n.72,.24\n.73,.24\n.74,.24\n.25,.25\n.26,.25\n.27,.25\n.28,.25\n.29,.25\n.3,.25\n.31,.25\n.32,.25\n.33,.25\n.34,.25\n.35,.25\n.36,.25\n.37,.25\n.38,.25\n.39,.25\n.4,.25\n.41,.25\n.42,.25\n.43,.25\n.44,.25\n.45,.25\n.46,.25\n.47,.25\n.48,.25\n.49,.25\n.5,.25\n.51,.25\n.52,.25\n.53,.25\n.54,.25\n.55,.25\n.56,.25\n.57,.25\n.58,.25\n.59,.25\n.6,.25\n.61,.25\n.62,.25\n.63,.25\n.64,.25\n.65,.25\n.66,.25\n.67,.25\n.68,.25\n.69,.25\n.7,.25\n.71,.25\n.72,.25\n.73,.25\n.74,.25\n.75,.25\n.24,.26\n.25,.26\n.26,.26\n.27,.26\n.28,.26\n.29,.26\n.3,.26\n.31,.26\n.32,.26\n.33,.26\n.34,.26\n.35,.26\n.36,.26\n.37,.26\n.38,.26\n.39,.26\n.4,.26\n.41,.26\n.42,.26\n.43,.26\n.44,.26\n.45,.26\n.46,.26\n.47,.26\n.48,.26\n.49,.26\n.5,.26\n.51,.26\n.52,.26\n.53,.26\n.54,.26\n.55,.26\n.56,.26\n.57,.26\n.58,.26\n.59,.26\n.6,.26\n.61,.26\n.62,.26\n.63,.26\n.64,.26\n.65,.26\n.66,.26\n.67,.26\n.68,.26\n.69,.26\n.7,.26\n.71,.26\n.72,.26\n.73,.26\n.74,.26\n.75,.26\n.76,.26\n.23,.27\n.24,.27\n.25,.27\n.26,.27\n.27,.27\n.28,.27\n.29,.27\n.3,.27\n.31,.27\n.32,.27\n.33,.27\n.34,.27\n.35,.27\n.36,.27\n.37,.27\n.38,.27\n.39,.27\n.4,.27\n.41,.27\n.42,.27\n.43,.27\n.44,.27\n.45,.27\n.46,.27\n.47,.27\n.48,.27\n.49,.27\n.5,.27\n.51,.27\n.52,.27\n.53,.27\n.54,.27\n.55,.27\n.56,.27\n.57,.27\n.58,.27\n.59,.27\n.6,.27\n.61,.27\n.62,.27\n.63,.27\n.64,.27\n.65,.27\n.66,.27\n.67,.27\n.68,.27\n.69,.27\n.7,.27\n.71,.27\n.72,.27\n.73,.27\n.74,.27\n.75,.27\n.76,.27\n.77,.27\n.23,.28\n.24,.28\n.25,.28\n.26,.28\n.27,.28\n.28,.28\n.29,.28\n.3,.28\n.31,.28\n.32,.28\n.33,.28\n.34,.28\n.35,.28\n.36,.28\n.37,.28\n.38,.28\n.39,.28\n.4,.28\n.41,.28\n.42,.28\n.43,.28\n.44,.28\n.45,.28\n.46,.28\n.47,.28\n.48,.28\n.49,.28\n.5,.28\n.51,.28\n.52,.28\n.53,.28\n.54,.28\n.55,.28\n.56,.28\n.57,.28\n.58,.28\n.59,.28\n.6,.28\n.61,.28\n.62,.28\n.63,.28\n.64,.28\n.65,.28\n.66,.28\n.67,.28\n.68,.28\n.69,.28\n.7,.28\n.71,.28\n.72,.28\n.73,.28\n.74,.28\n.75,.28\n.76,.28\n.77,.28\n.78,.28\n.22,.29\n.23,.29\n.24,.29\n.25,.29\n.26,.29\n.27,.29\n.28,.29\n.29,.29\n.3,.29\n.31,.29\n.32,.29\n.33,.29\n.34,.29\n.35,.29\n.36,.29\n.37,.29\n.38,.29\n.39,.29\n.4,.29\n.41,.29\n.42,.29\n.43,.29\n.44,.29\n.45,.29\n.46,.29\n.47,.29\n.48,.29\n.49,.29\n.5,.29\n.51,.29\n.52,.29\n.53,.29\n.54,.29\n.55,.29\n.56,.29\n.57,.29\n.58,.29\n.59,.29\n.6,.29\n.61,.29\n.62,.29\n.63,.29\n.64,.29\n.65,.29\n.66,.29\n.67,.29\n.68,.29\n.69,.29\n.7,.29\n.71,.29\n.72,.29\n.73,.29\n.74,.29\n.75,.29\n.76,.29\n.77,.29\n.78,.29\n.2,.3\n.21,.3\n.22,.3\n.23,.3\n.24,.3\n.25,.3\n.26,.3\n.27,.3\n.28,.3\n.29,.3\n.3,.3\n.31,.3\n.32,.3\n.33,.3\n.34,.3\n.35,.3\n.36,.3\n.37,.3\n.38,.3\n.39,.3\n.4,.3\n.41,.3\n.42,.3\n.43,.3\n.44,.3\n.45,.3\n.46,.3\n.47,.3\n.48,.3\n.49,.3\n.5,.3\n.51,.3\n.52,.3\n.53,.3\n.54,.3\n.55,.3\n.56,.3\n.57,.3\n.58,.3\n.59,.3\n.6,.3\n.61,.3\n.62,.3\n.63,.3\n.64,.3\n.65,.3\n.66,.3\n.67,.3\n.68,.3\n.69,.3\n.7,.3\n.71,.3\n.72,.3\n.73,.3\n.74,.3\n.75,.3\n.76,.3\n.77,.3\n.78,.3\n.79,.3\n.19,.31\n.2,.31\n.21,.31\n.22,.31\n.23,.31\n.24,.31\n.25,.31\n.26,.31\n.27,.31\n.28,.31\n.29,.31\n.3,.31\n.31,.31\n.32,.31\n.33,.31\n.34,.31\n.35,.31\n.36,.31\n.37,.31\n.38,.31\n.39,.31\n.4,.31\n.41,.31\n.42,.31\n.43,.31\n.44,.31\n.45,.31\n.46,.31\n.47,.31\n.48,.31\n.49,.31\n.5,.31\n.51,.31\n.52,.31\n.53,.31\n.54,.31\n.55,.31\n.56,.31\n.57,.31\n.58,.31\n.59,.31\n.6,.31\n.61,.31\n.62,.31\n.63,.31\n.64,.31\n.65,.31\n.66,.31\n.67,.31\n.68,.31\n.69,.31\n.7,.31\n.71,.31\n.72,.31\n.73,.31\n.74,.31\n.75,.31\n.76,.31\n.77,.31\n.78,.31\n.79,.31\n.8,.31\n.18,.32\n.19,.32\n.2,.32\n.21,.32\n.22,.32\n.23,.32\n.24,.32\n.25,.32\n.26,.32\n.27,.32\n.28,.32\n.29,.32\n.3,.32\n.31,.32\n.32,.32\n.33,.32\n.34,.32\n.35,.32\n.36,.32\n.37,.32\n.38,.32\n.39,.32\n.4,.32\n.41,.32\n.42,.32\n.43,.32\n.44,.32\n.45,.32\n.46,.32\n.47,.32\n.48,.32\n.49,.32\n.5,.32\n.51,.32\n.52,.32\n.53,.32\n.54,.32\n.55,.32\n.56,.32\n.57,.32\n.58,.32\n.59,.32\n.6,.32\n.61,.32\n.62,.32\n.63,.32\n.64,.32\n.65,.32\n.66,.32\n.67,.32\n.68,.32\n.69,.32\n.7,.32\n.71,.32\n.72,.32\n.73,.32\n.74,.32\n.75,.32\n.76,.32\n.77,.32\n.78,.32\n.79,.32\n.8,.32\n.81,.32\n.17,.33\n.18,.33\n.19,.33\n.2,.33\n.21,.33\n.22,.33\n.23,.33\n.24,.33\n.25,.33\n.26,.33\n.27,.33\n.28,.33\n.29,.33\n.3,.33\n.31,.33\n.32,.33\n.33,.33\n.34,.33\n.35,.33\n.36,.33\n.37,.33\n.38,.33\n.39,.33\n.4,.33\n.41,.33\n.42,.33\n.43,.33\n.44,.33\n.45,.33\n.46,.33\n.47,.33\n.48,.33\n.49,.33\n.5,.33\n.51,.33\n.52,.33\n.53,.33\n.54,.33\n.55,.33\n.56,.33\n.57,.33\n.58,.33\n.59,.33\n.6,.33\n.61,.33\n.62,.33\n.63,.33\n.64,.33\n.65,.33\n.66,.33\n.67,.33\n.68,.33\n.69,.33\n.7,.33\n.71,.33\n.72,.33\n.73,.33\n.74,.33\n.75,.33\n.76,.33\n.77,.33\n.78,.33\n.79,.33\n.8,.33\n.81,.33\n.82,.33\n.83,.33\n.16,.34\n.17,.34\n.18,.34\n.19,.34\n.2,.34\n.21,.34\n.22,.34\n.23,.34\n.24,.34\n.25,.34\n.26,.34\n.27,.34\n.28,.34\n.29,.34\n.3,.34\n.31,.34\n.32,.34\n.33,.34\n.34,.34\n.35,.34\n.36,.34\n.37,.34\n.38,.34\n.39,.34\n.4,.34\n.41,.34\n.42,.34\n.43,.34\n.44,.34\n.45,.34\n.46,.34\n.47,.34\n.48,.34\n.49,.34\n.5,.34\n.51,.34\n.52,.34\n.53,.34\n.54,.34\n.55,.34\n.56,.34\n.57,.34\n.58,.34\n.59,.34\n.6,.34\n.61,.34\n.62,.34\n.63,.34\n.64,.34\n.65,.34\n.66,.34\n.67,.34\n.68,.34\n.69,.34\n.7,.34\n.71,.34\n.72,.34\n.73,.34\n.74,.34\n.75,.34\n.76,.34\n.77,.34\n.78,.34\n.79,.34\n.8,.34\n.81,.34\n.82,.34\n.83,.34\n.84,.34\n.15,.35\n.16,.35\n.17,.35\n.18,.35\n.19,.35\n.2,.35\n.21,.35\n.22,.35\n.23,.35\n.24,.35\n.25,.35\n.26,.35\n.27,.35\n.28,.35\n.29,.35\n.3,.35\n.31,.35\n.32,.35\n.33,.35\n.34,.35\n.35,.35\n.36,.35\n.37,.35\n.38,.35\n.39,.35\n.4,.35\n.41,.35\n.42,.35\n.43,.35\n.44,.35\n.45,.35\n.46,.35\n.47,.35\n.48,.35\n.49,.35\n.5,.35\n.51,.35\n.52,.35\n.53,.35\n.54,.35\n.55,.35\n.56,.35\n.57,.35\n.58,.35\n.59,.35\n.6,.35\n.61,.35\n.62,.35\n.63,.35\n.64,.35\n.65,.35\n.66,.35\n.67,.35\n.68,.35\n.69,.35\n.7,.35\n.71,.35\n.72,.35\n.73,.35\n.74,.35\n.75,.35\n.76,.35\n.77,.35\n.78,.35\n.79,.35\n.8,.35\n.81,.35\n.82,.35\n.83,.35\n.84,.35\n.85,.35\n.14,.36\n.15,.36\n.16,.36\n.17,.36\n.18,.36\n.19,.36\n.2,.36\n.21,.36\n.22,.36\n.23,.36\n.24,.36\n.25,.36\n.26,.36\n.27,.36\n.28,.36\n.29,.36\n.3,.36\n.31,.36\n.32,.36\n.33,.36\n.34,.36\n.35,.36\n.36,.36\n.37,.36\n.38,.36\n.39,.36\n.4,.36\n.41,.36\n.42,.36\n.43,.36\n.44,.36\n.45,.36\n.46,.36\n.47,.36\n.48,.36\n.49,.36\n.5,.36\n.51,.36\n.52,.36\n.53,.36\n.54,.36\n.55,.36\n.56,.36\n.57,.36\n.58,.36\n.59,.36\n.6,.36\n.61,.36\n.62,.36\n.63,.36\n.64,.36\n.65,.36\n.66,.36\n.67,.36\n.68,.36\n.69,.36\n.7,.36\n.71,.36\n.72,.36\n.73,.36\n.74,.36\n.75,.36\n.76,.36\n.77,.36\n.78,.36\n.79,.36\n.8,.36\n.81,.36\n.82,.36\n.83,.36\n.84,.36\n.85,.36\n.86,.36\n.13,.37\n.14,.37\n.15,.37\n.16,.37\n.17,.37\n.18,.37\n.19,.37\n.2,.37\n.21,.37\n.22,.37\n.23,.37\n.24,.37\n.25,.37\n.26,.37\n.27,.37\n.28,.37\n.29,.37\n.3,.37\n.31,.37\n.32,.37\n.33,.37\n.34,.37\n.35,.37\n.36,.37\n.37,.37\n.38,.37\n.39,.37\n.4,.37\n.41,.37\n.42,.37\n.43,.37\n.44,.37\n.45,.37\n.46,.37\n.47,.37\n.48,.37\n.49,.37\n.5,.37\n.51,.37\n.52,.37\n.53,.37\n.54,.37\n.55,.37\n.56,.37\n.57,.37\n.58,.37\n.59,.37\n.6,.37\n.61,.37\n.62,.37\n.63,.37\n.64,.37\n.65,.37\n.66,.37\n.67,.37\n.68,.37\n.69,.37\n.7,.37\n.71,.37\n.72,.37\n.73,.37\n.74,.37\n.75,.37\n.76,.37\n.77,.37\n.78,.37\n.79,.37\n.8,.37\n.81,.37\n.82,.37\n.83,.37\n.84,.37\n.85,.37\n.86,.37\n.87,.37\n.12,.38\n.13,.38\n.14,.38\n.15,.38\n.16,.38\n.17,.38\n.18,.38\n.19,.38\n.2,.38\n.21,.38\n.22,.38\n.23,.38\n.24,.38\n.25,.38\n.26,.38\n.27,.38\n.28,.38\n.29,.38\n.3,.38\n.31,.38\n.32,.38\n.33,.38\n.34,.38\n.35,.38\n.36,.38\n.37,.38\n.38,.38\n.39,.38\n.4,.38\n.41,.38\n.42,.38\n.43,.38\n.44,.38\n.45,.38\n.46,.38\n.47,.38\n.48,.38\n.49,.38\n.5,.38\n.51,.38\n.52,.38\n.53,.38\n.54,.38\n.55,.38\n.56,.38\n.57,.38\n.58,.38\n.59,.38\n.6,.38\n.61,.38\n.62,.38\n.63,.38\n.64,.38\n.65,.38\n.66,.38\n.67,.38\n.68,.38\n.69,.38\n.7,.38\n.71,.38\n.72,.38\n.73,.38\n.74,.38\n.75,.38\n.76,.38\n.77,.38\n.78,.38\n.79,.38\n.8,.38\n.81,.38\n.82,.38\n.83,.38\n.84,.38\n.85,.38\n.86,.38\n.87,.38\n.88,.38\n.11,.39\n.12,.39\n.13,.39\n.14,.39\n.15,.39\n.16,.39\n.17,.39\n.18,.39\n.19,.39\n.2,.39\n.21,.39\n.22,.39\n.23,.39\n.24,.39\n.25,.39\n.26,.39\n.27,.39\n.28,.39\n.29,.39\n.3,.39\n.31,.39\n.32,.39\n.33,.39\n.34,.39\n.35,.39\n.36,.39\n.37,.39\n.38,.39\n.39,.39\n.4,.39\n.41,.39\n.42,.39\n.43,.39\n.44,.39\n.45,.39\n.46,.39\n.47,.39\n.48,.39\n.49,.39\n.5,.39\n.51,.39\n.52,.39\n.53,.39\n.54,.39\n.55,.39\n.56,.39\n.57,.39\n.58,.39\n.59,.39\n.6,.39\n.61,.39\n.62,.39\n.63,.39\n.64,.39\n.65,.39\n.66,.39\n.67,.39\n.68,.39\n.69,.39\n.7,.39\n.71,.39\n.72,.39\n.73,.39\n.74,.39\n.75,.39\n.76,.39\n.77,.39\n.78,.39\n.79,.39\n.8,.39\n.81,.39\n.82,.39\n.83,.39\n.84,.39\n.85,.39\n.86,.39\n.87,.39\n.88,.39\n.89,.39\n.1,.4\n.11,.4\n.12,.4\n.13,.4\n.14,.4\n.15,.4\n.16,.4\n.17,.4\n.18,.4\n.19,.4\n.2,.4\n.21,.4\n.22,.4\n.23,.4\n.24,.4\n.25,.4\n.26,.4\n.27,.4\n.28,.4\n.29,.4\n.3,.4\n.31,.4\n.32,.4\n.33,.4\n.34,.4\n.35,.4\n.36,.4\n.37,.4\n.38,.4\n.39,.4\n.4,.4\n.41,.4\n.42,.4\n.43,.4\n.44,.4\n.45,.4\n.46,.4\n.47,.4\n.48,.4\n.49,.4\n.5,.4\n.51,.4\n.52,.4\n.53,.4\n.54,.4\n.55,.4\n.56,.4\n.57,.4\n.58,.4\n.59,.4\n.6,.4\n.61,.4\n.62,.4\n.63,.4\n.64,.4\n.65,.4\n.66,.4\n.67,.4\n.68,.4\n.69,.4\n.7,.4\n.71,.4\n.72,.4\n.73,.4\n.74,.4\n.75,.4\n.76,.4\n.77,.4\n.78,.4\n.79,.4\n.8,.4\n.81,.4\n.82,.4\n.83,.4\n.84,.4\n.85,.4\n.86,.4\n.87,.4\n.88,.4\n.89,.4\n.9,.4\n.09,.41\n.1,.41\n.11,.41\n.12,.41\n.13,.41\n.14,.41\n.15,.41\n.16,.41\n.17,.41\n.18,.41\n.19,.41\n.2,.41\n.21,.41\n.22,.41\n.23,.41\n.24,.41\n.25,.41\n.26,.41\n.27,.41\n.28,.41\n.29,.41\n.3,.41\n.31,.41\n.32,.41\n.33,.41\n.34,.41\n.35,.41\n.36,.41\n.37,.41\n.38,.41\n.39,.41\n.4,.41\n.41,.41\n.42,.41\n.43,.41\n.44,.41\n.45,.41\n.46,.41\n.47,.41\n.48,.41\n.49,.41\n.5,.41\n.51,.41\n.52,.41\n.53,.41\n.54,.41\n.55,.41\n.56,.41\n.57,.41\n.58,.41\n.59,.41\n.6,.41\n.61,.41\n.62,.41\n.63,.41\n.64,.41\n.65,.41\n.66,.41\n.67,.41\n.68,.41\n.69,.41\n.7,.41\n.71,.41\n.72,.41\n.73,.41\n.74,.41\n.75,.41\n.76,.41\n.77,.41\n.78,.41\n.79,.41\n.8,.41\n.81,.41\n.82,.41\n.83,.41\n.84,.41\n.85,.41\n.86,.41\n.87,.41\n.88,.41\n.89,.41\n.9,.41\n.91,.41\n.08,.42\n.09,.42\n.1,.42\n.11,.42\n.12,.42\n.13,.42\n.14,.42\n.15,.42\n.16,.42\n.17,.42\n.18,.42\n.19,.42\n.2,.42\n.21,.42\n.22,.42\n.23,.42\n.24,.42\n.25,.42\n.26,.42\n.27,.42\n.28,.42\n.29,.42\n.3,.42\n.31,.42\n.32,.42\n.33,.42\n.34,.42\n.35,.42\n.36,.42\n.37,.42\n.38,.42\n.39,.42\n.4,.42\n.41,.42\n.42,.42\n.43,.42\n.44,.42\n.45,.42\n.46,.42\n.47,.42\n.48,.42\n.49,.42\n.5,.42\n.51,.42\n.52,.42\n.53,.42\n.54,.42\n.55,.42\n.56,.42\n.57,.42\n.58,.42\n.59,.42\n.6,.42\n.61,.42\n.62,.42\n.63,.42\n.64,.42\n.65,.42\n.66,.42\n.67,.42\n.68,.42\n.69,.42\n.7,.42\n.71,.42\n.72,.42\n.73,.42\n.74,.42\n.75,.42\n.76,.42\n.77,.42\n.78,.42\n.79,.42\n.8,.42\n.81,.42\n.82,.42\n.83,.42\n.84,.42\n.85,.42\n.86,.42\n.87,.42\n.88,.42\n.89,.42\n.9,.42\n.91,.42\n.07,.43\n.08,.43\n.09,.43\n.1,.43\n.11,.43\n.12,.43\n.13,.43\n.14,.43\n.15,.43\n.16,.43\n.17,.43\n.18,.43\n.19,.43\n.2,.43\n.21,.43\n.22,.43\n.23,.43\n.24,.43\n.25,.43\n.26,.43\n.27,.43\n.28,.43\n.29,.43\n.3,.43\n.31,.43\n.32,.43\n.33,.43\n.34,.43\n.35,.43\n.36,.43\n.37,.43\n.38,.43\n.39,.43\n.4,.43\n.41,.43\n.42,.43\n.43,.43\n.44,.43\n.45,.43\n.46,.43\n.47,.43\n.48,.43\n.49,.43\n.5,.43\n.51,.43\n.52,.43\n.53,.43\n.54,.43\n.55,.43\n.56,.43\n.57,.43\n.58,.43\n.59,.43\n.6,.43\n.61,.43\n.62,.43\n.63,.43\n.64,.43\n.65,.43\n.66,.43\n.67,.43\n.68,.43\n.69,.43\n.7,.43\n.71,.43\n.72,.43\n.73,.43\n.74,.43\n.75,.43\n.76,.43\n.77,.43\n.78,.43\n.79,.43\n.8,.43\n.81,.43\n.82,.43\n.83,.43\n.84,.43\n.85,.43\n.86,.43\n.87,.43\n.88,.43\n.89,.43\n.9,.43\n.91,.43\n.92,.43\n.93,.43\n.06,.44\n.07,.44\n.08,.44\n.09,.44\n.1,.44\n.11,.44\n.12,.44\n.13,.44\n.14,.44\n.15,.44\n.16,.44\n.17,.44\n.18,.44\n.19,.44\n.2,.44\n.21,.44\n.22,.44\n.23,.44\n.24,.44\n.25,.44\n.26,.44\n.27,.44\n.28,.44\n.29,.44\n.3,.44\n.31,.44\n.32,.44\n.33,.44\n.34,.44\n.35,.44\n.36,.44\n.37,.44\n.38,.44\n.39,.44\n.4,.44\n.41,.44\n.42,.44\n.43,.44\n.44,.44\n.45,.44\n.46,.44\n.47,.44\n.48,.44\n.49,.44\n.5,.44\n.51,.44\n.52,.44\n.53,.44\n.54,.44\n.55,.44\n.56,.44\n.57,.44\n.58,.44\n.59,.44\n.6,.44\n.61,.44\n.62,.44\n.63,.44\n.64,.44\n.65,.44\n.66,.44\n.67,.44\n.68,.44\n.69,.44\n.7,.44\n.71,.44\n.72,.44\n.73,.44\n.74,.44\n.75,.44\n.76,.44\n.77,.44\n.78,.44\n.79,.44\n.8,.44\n.81,.44\n.82,.44\n.83,.44\n.84,.44\n.85,.44\n.86,.44\n.87,.44\n.88,.44\n.89,.44\n.9,.44\n.91,.44\n.92,.44\n.93,.44\n.94,.44\n.05,.45\n.06,.45\n.07,.45\n.08,.45\n.09,.45\n.1,.45\n.11,.45\n.12,.45\n.13,.45\n.14,.45\n.15,.45\n.16,.45\n.17,.45\n.18,.45\n.19,.45\n.2,.45\n.21,.45\n.22,.45\n.23,.45\n.24,.45\n.25,.45\n.26,.45\n.27,.45\n.28,.45\n.29,.45\n.3,.45\n.31,.45\n.32,.45\n.33,.45\n.34,.45\n.35,.45\n.36,.45\n.37,.45\n.38,.45\n.39,.45\n.4,.45\n.41,.45\n.42,.45\n.43,.45\n.44,.45\n.45,.45\n.46,.45\n.47,.45\n.48,.45\n.49,.45\n.5,.45\n.51,.45\n.52,.45\n.53,.45\n.54,.45\n.55,.45\n.56,.45\n.57,.45\n.58,.45\n.59,.45\n.6,.45\n.61,.45\n.62,.45\n.63,.45\n.64,.45\n.65,.45\n.66,.45\n.67,.45\n.68,.45\n.69,.45\n.7,.45\n.71,.45\n.72,.45\n.73,.45\n.74,.45\n.75,.45\n.76,.45\n.77,.45\n.78,.45\n.79,.45\n.8,.45\n.81,.45\n.82,.45\n.83,.45\n.84,.45\n.85,.45\n.86,.45\n.87,.45\n.88,.45\n.89,.45\n.9,.45\n.91,.45\n.92,.45\n.93,.45\n.94,.45\n.95,.45\n.04,.46\n.05,.46\n.06,.46\n.07,.46\n.08,.46\n.09,.46\n.1,.46\n.11,.46\n.12,.46\n.13,.46\n.14,.46\n.15,.46\n.16,.46\n.17,.46\n.18,.46\n.19,.46\n.2,.46\n.21,.46\n.22,.46\n.23,.46\n.24,.46\n.25,.46\n.26,.46\n.27,.46\n.28,.46\n.29,.46\n.3,.46\n.31,.46\n.32,.46\n.33,.46\n.34,.46\n.35,.46\n.36,.46\n.37,.46\n.38,.46\n.39,.46\n.4,.46\n.41,.46\n.42,.46\n.43,.46\n.44,.46\n.45,.46\n.46,.46\n.47,.46\n.48,.46\n.49,.46\n.5,.46\n.51,.46\n.52,.46\n.53,.46\n.54,.46\n.55,.46\n.56,.46\n.57,.46\n.58,.46\n.59,.46\n.6,.46\n.61,.46\n.62,.46\n.63,.46\n.64,.46\n.65,.46\n.66,.46\n.67,.46\n.68,.46\n.69,.46\n.7,.46\n.71,.46\n.72,.46\n.73,.46\n.74,.46\n.75,.46\n.76,.46\n.77,.46\n.78,.46\n.79,.46\n.8,.46\n.81,.46\n.82,.46\n.83,.46\n.84,.46\n.85,.46\n.86,.46\n.87,.46\n.88,.46\n.89,.46\n.9,.46\n.91,.46\n.92,.46\n.93,.46\n.94,.46\n.95,.46\n.96,.46\n.03,.47\n.04,.47\n.05,.47\n.06,.47\n.07,.47\n.08,.47\n.09,.47\n.1,.47\n.11,.47\n.12,.47\n.13,.47\n.14,.47\n.15,.47\n.16,.47\n.17,.47\n.18,.47\n.19,.47\n.2,.47\n.21,.47\n.22,.47\n.23,.47\n.24,.47\n.25,.47\n.26,.47\n.27,.47\n.28,.47\n.29,.47\n.3,.47\n.31,.47\n.32,.47\n.33,.47\n.34,.47\n.35,.47\n.36,.47\n.37,.47\n.38,.47\n.39,.47\n.4,.47\n.41,.47\n.42,.47\n.43,.47\n.44,.47\n.45,.47\n.46,.47\n.47,.47\n.48,.47\n.49,.47\n.5,.47\n.51,.47\n.52,.47\n.53,.47\n.54,.47\n.55,.47\n.56,.47\n.57,.47\n.58,.47\n.59,.47\n.6,.47\n.61,.47\n.62,.47\n.63,.47\n.64,.47\n.65,.47\n.66,.47\n.67,.47\n.68,.47\n.69,.47\n.7,.47\n.71,.47\n.72,.47\n.73,.47\n.74,.47\n.75,.47\n.76,.47\n.77,.47\n.78,.47\n.79,.47\n.8,.47\n.81,.47\n.82,.47\n.83,.47\n.84,.47\n.85,.47\n.86,.47\n.87,.47\n.88,.47\n.89,.47\n.9,.47\n.91,.47\n.92,.47\n.93,.47\n.94,.47\n.95,.47\n.96,.47\n.97,.47\n.02,.48\n.03,.48\n.04,.48\n.05,.48\n.06,.48\n.07,.48\n.08,.48\n.09,.48\n.1,.48\n.11,.48\n.12,.48\n.13,.48\n.14,.48\n.15,.48\n.16,.48\n.17,.48\n.18,.48\n.19,.48\n.2,.48\n.21,.48\n.22,.48\n.23,.48\n.24,.48\n.25,.48\n.26,.48\n.27,.48\n.28,.48\n.29,.48\n.3,.48\n.31,.48\n.32,.48\n.33,.48\n.34,.48\n.35,.48\n.36,.48\n.37,.48\n.38,.48\n.39,.48\n.4,.48\n.41,.48\n.42,.48\n.43,.48\n.44,.48\n.45,.48\n.46,.48\n.47,.48\n.48,.48\n.49,.48\n.5,.48\n.51,.48\n.52,.48\n.53,.48\n.54,.48\n.55,.48\n.56,.48\n.57,.48\n.58,.48\n.59,.48\n.6,.48\n.61,.48\n.62,.48\n.63,.48\n.64,.48\n.65,.48\n.66,.48\n.67,.48\n.68,.48\n.69,.48\n.7,.48\n.71,.48\n.72,.48\n.73,.48\n.74,.48\n.75,.48\n.76,.48\n.77,.48\n.78,.48\n.79,.48\n.8,.48\n.81,.48\n.82,.48\n.83,.48\n.84,.48\n.85,.48\n.86,.48\n.87,.48\n.88,.48\n.89,.48\n.9,.48\n.91,.48\n.92,.48\n.93,.48\n.94,.48\n.95,.48\n.96,.48\n.97,.48\n.98,.48\n.01,.49\n.02,.49\n.03,.49\n.04,.49\n.05,.49\n.06,.49\n.07,.49\n.08,.49\n.09,.49\n.1,.49\n.11,.49\n.12,.49\n.13,.49\n.14,.49\n.15,.49\n.16,.49\n.17,.49\n.18,.49\n.19,.49\n.2,.49\n.21,.49\n.22,.49\n.23,.49\n.24,.49\n.25,.49\n.26,.49\n.27,.49\n.28,.49\n.29,.49\n.3,.49\n.31,.49\n.32,.49\n.33,.49\n.34,.49\n.35,.49\n.36,.49\n.37,.49\n.38,.49\n.39,.49\n.4,.49\n.41,.49\n.42,.49\n.43,.49\n.44,.49\n.45,.49\n.46,.49\n.47,.49\n.48,.49\n.49,.49\n.5,.49\n.51,.49\n.52,.49\n.53,.49\n.54,.49\n.55,.49\n.56,.49\n.57,.49\n.58,.49\n.59,.49\n.6,.49\n.61,.49\n.62,.49\n.63,.49\n.64,.49\n.65,.49\n.66,.49\n.67,.49\n.68,.49\n.69,.49\n.7,.49\n.71,.49\n.72,.49\n.73,.49\n.74,.49\n.75,.49\n.76,.49\n.77,.49\n.78,.49\n.79,.49\n.8,.49\n.81,.49\n.82,.49\n.83,.49\n.84,.49\n.85,.49\n.86,.49\n.87,.49\n.88,.49\n.89,.49\n.9,.49\n.91,.49\n.92,.49\n.93,.49\n.94,.49\n.95,.49\n.96,.49\n.97,.49\n.98,.49\n.99,.49\n0,.5\n.01,.5\n.02,.5\n.03,.5\n.04,.5\n.05,.5\n.06,.5\n.07,.5\n.08,.5\n.09,.5\n.1,.5\n.11,.5\n.12,.5\n.13,.5\n.14,.5\n.15,.5\n.16,.5\n.17,.5\n.18,.5\n.19,.5\n.2,.5\n.21,.5\n.22,.5\n.23,.5\n.24,.5\n.25,.5\n.26,.5\n.27,.5\n.28,.5\n.29,.5\n.3,.5\n.31,.5\n.32,.5\n.33,.5\n.34,.5\n.35,.5\n.36,.5\n.37,.5\n.38,.5\n.39,.5\n.4,.5\n.41,.5\n.42,.5\n.43,.5\n.44,.5\n.45,.5\n.46,.5\n.47,.5\n.48,.5\n.49,.5\n.5,.5\n.51,.5\n.52,.5\n.53,.5\n.54,.5\n.55,.5\n.56,.5\n.57,.5\n.58,.5\n.59,.5\n.6,.5\n.61,.5\n.62,.5\n.63,.5\n.64,.5\n.65,.5\n.66,.5\n.67,.5\n.68,.5\n.69,.5\n.7,.5\n.71,.5\n.72,.5\n.73,.5\n.74,.5\n.75,.5\n.76,.5\n.77,.5\n.78,.5\n.79,.5\n.8,.5\n.81,.5\n.82,.5\n.83,.5\n.84,.5\n.85,.5\n.86,.5\n.87,.5\n.88,.5\n.89,.5\n.9,.5\n.91,.5\n.92,.5\n.93,.5\n.94,.5\n.95,.5\n.96,.5\n.97,.5\n.98,.5\n.99,.5\n1,.5\n", "format": {"type": "csv", "parse": {"x": "number", "beta": "number"}}},
"mark": {"type": "point", "filled": false, "strokeWidth": 1, "opacity": 1},
"encoding": {
"x": {"field": "x", "type": "quantitative", "scale": {"domain": [0, 1], "nice": false, "zero": false}, "axis": {"orient": "top", "labels": false, "title": null}},
"y": {"field": "beta", "type": "quantitative", "scale": {"domain": [0, 0.5], "nice": false, "zero": false}, "axis": {"orient": "right", "labels": false, "title": null}},
"color": {"datum": "nFHD=0", "type": "nominal", "scale": {"domain": ["nFHD=1", "nFHD=0"], "range": ["#0000ff", "#ff0000"]}},
"shape": {"datum": "nFHD=0", "type": "nominal", "scale": {"domain": ["nFHD=1", "nFHD=0"], "range": ["M-1,-1L1,1M1,-1L-1,1", "circle"]}},
"size": {"datum": "nFHD=0", "type": "ordinal", "scale": {"domain": ["nFHD=1", "nFHD=0"], "range": [22, 2]}}
}
}
],
"resolve": {"scale": {"x": "independent", "y": "independent"}}
}
